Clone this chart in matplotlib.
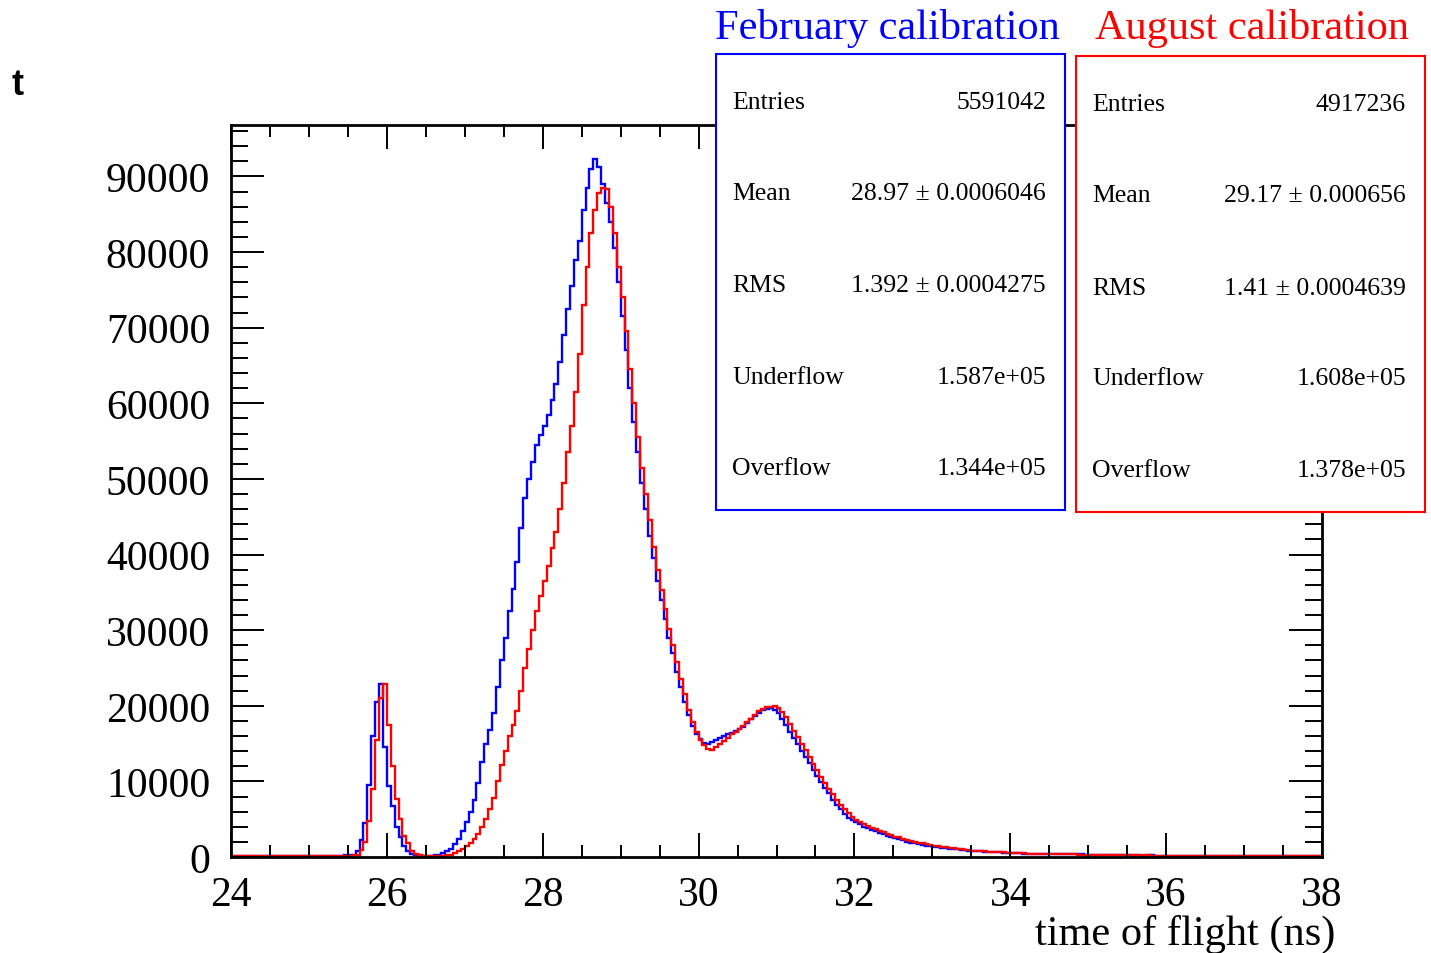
import matplotlib
matplotlib.use("Agg")
import matplotlib.pyplot as plt
import numpy as np
from matplotlib.patches import Rectangle
from matplotlib.ticker import MultipleLocator

# bins of 0.05 ns from 24 to 38, counts in thousands
bin_edges = np.arange(24.0, 38.0001, 0.05)

feb_counts = [
    # 24 - 25
    0.1, 0.1, 0.1, 0.1, 0.1, 0.1, 0.1, 0.1, 0.1, 0.1,
    0.1, 0.1, 0.1, 0.1, 0.1, 0.1, 0.1, 0.1, 0.1, 0.1,
    # 25 - 26
    0.1, 0.1, 0.1, 0.1, 0.1, 0.1, 0.1, 0.1, 0.15, 0.2,
    0.2, 0.3, 0.8, 2.2, 4.5, 9.5, 16.0, 20.5, 22.9, 14.5,
    # 26 - 27
    9.4, 6.8, 4.0, 2.7, 1.5, 0.8, 0.4, 0.2, 0.1, 0.1,
    0.1, 0.15, 0.2, 0.3, 0.5, 0.8, 1.0, 1.7, 2.4, 3.4,
    # 27 - 28
    4.6, 6.0, 7.5, 9.8, 12.5, 15.0, 16.8, 19.0, 22.5, 26.0,
    29.0, 32.5, 35.5, 39.0, 43.5, 47.5, 50.0, 52.3, 54.5, 55.8,
    # 28 - 29
    57.0, 58.5, 60.5, 62.5, 65.5, 69.0, 72.5, 75.5, 79.0, 81.5,
    85.5, 88.5, 91.0, 92.3, 91.2, 89.0, 86.5, 84.0, 80.5, 76.0,
    # 29 - 30
    71.5, 67.0, 62.0, 57.5, 53.5, 49.5, 46.0, 42.5, 39.5, 36.5,
    34.0, 31.5, 29.0, 27.0, 24.5, 22.5, 20.5, 18.8, 17.3, 16.2,
    # 30 - 31
    15.6, 15.1, 15.0, 15.2, 15.5, 15.8, 16.0, 16.2, 16.4, 16.6,
    16.9, 17.2, 17.7, 18.2, 18.7, 19.1, 19.4, 19.6, 19.7, 19.4,
    # 31 - 32
    19.0, 18.2, 17.4, 16.5, 15.7, 14.9, 14.0, 13.2, 12.4, 11.5,
    10.7, 9.9, 9.1, 8.4, 7.6, 6.9, 6.3, 5.7, 5.2, 4.9,
    # 32 - 33
    4.6, 4.3, 4.0, 3.8, 3.6, 3.4, 3.2, 3.0, 2.8, 2.6,
    2.5, 2.4, 2.2, 2.0, 1.9, 1.8, 1.7, 1.6, 1.5, 1.4,
    # 33 - 34
    1.35, 1.3, 1.2, 1.15, 1.1, 1.0, 1.0, 0.95, 0.9, 0.85,
    0.8, 0.8, 0.75, 0.7, 0.7, 0.65, 0.6, 0.6, 0.55, 0.55,
    # 34 - 35
    0.5, 0.5, 0.5, 0.45, 0.45, 0.45, 0.45, 0.4, 0.4, 0.4,
    0.4, 0.4, 0.4, 0.35, 0.35, 0.35, 0.35, 0.35, 0.35, 0.3,
    # 35 - 36
    0.3, 0.3, 0.3, 0.3, 0.3, 0.3, 0.3, 0.3, 0.3, 0.3,
    0.3, 0.1, 0.2, 0.1, 0.1, 0.2, 0.3, 0.1, 0.1, 0.1,
    # 36 - 37
    0.1, 0.1, 0.1, 0.1, 0.1, 0.1, 0.1, 0.1, 0.1, 0.1,
    0.1, 0.1, 0.1, 0.1, 0.1, 0.1, 0.1, 0.1, 0.1, 0.1,
    # 37 - 38
    0.1, 0.1, 0.1, 0.1, 0.1, 0.1, 0.1, 0.1, 0.1, 0.1,
    0.1, 0.1, 0.1, 0.1, 0.1, 0.1, 0.1, 0.1, 0.1, 0.1,
]

aug_counts = [
    # 24 - 25
    0.1, 0.1, 0.1, 0.1, 0.1, 0.1, 0.1, 0.1, 0.1, 0.1,
    0.1, 0.1, 0.1, 0.1, 0.1, 0.1, 0.1, 0.1, 0.1, 0.1,
    # 25 - 26
    0.1, 0.1, 0.1, 0.1, 0.1, 0.1, 0.1, 0.1, 0.1, 0.1,
    0.15, 0.2, 0.3, 0.9, 2.0, 4.8, 9.0, 15.5, 21.0, 22.9,
    # 26 - 27
    17.5, 12.0, 7.7, 5.0, 2.8, 1.8, 0.8, 0.4, 0.2, 0.1,
    0.1, 0.1, 0.1, 0.1, 0.15, 0.2, 0.3, 0.5, 0.8, 1.1,
    # 27 - 28
    1.5, 1.9, 2.4, 3.1, 4.0, 5.0, 6.3, 7.8, 10.0, 12.2,
    14.0, 16.0, 17.5, 19.3, 22.0, 25.0, 27.5, 30.0, 32.5, 34.5,
    # 28 - 29
    36.5, 38.5, 40.8, 43.0, 46.0, 49.5, 53.5, 57.0, 61.5, 66.5,
    73.0, 78.0, 82.5, 85.5, 87.8, 88.5, 88.4, 86.0, 82.5, 78.0,
    # 29 - 30
    74.0, 69.5, 64.5, 60.0, 55.5, 51.5, 48.0, 44.5, 41.0, 38.0,
    35.3, 32.8, 30.2, 28.0, 25.8, 23.6, 21.5, 19.5, 17.8, 16.5,
    # 30 - 31
    15.5, 14.8, 14.3, 14.2, 14.5, 15.0, 15.4, 15.8, 16.2, 16.5,
    16.9, 17.3, 17.8, 18.3, 18.8, 19.3, 19.6, 19.8, 19.9, 20.0,
    # 31 - 32
    19.7, 19.2, 18.5, 17.6, 16.7, 15.9, 15.0, 14.1, 13.2, 12.3,
    11.5, 10.6, 9.8, 9.0, 8.3, 7.5, 6.9, 6.3, 5.8, 5.3,
    # 32 - 33
    4.9, 4.6, 4.3, 4.1, 3.9, 3.7, 3.5, 3.3, 3.1, 2.9,
    2.7, 2.6, 2.4, 2.3, 2.1, 2.0, 1.9, 1.8, 1.7, 1.6,
    # 33 - 34
    1.5, 1.4, 1.35, 1.3, 1.2, 1.15, 1.1, 1.0, 0.95, 0.9,
    0.85, 0.8, 0.8, 0.75, 0.7, 0.7, 0.65, 0.6, 0.6, 0.55,
    # 34 - 35
    0.5, 0.5, 0.5, 0.5, 0.45, 0.45, 0.45, 0.4, 0.4, 0.4,
    0.4, 0.35, 0.35, 0.35, 0.35, 0.35, 0.35, 0.3, 0.3, 0.3,
    # 35 - 36
    0.3, 0.3, 0.3, 0.3, 0.3, 0.3, 0.3, 0.3, 0.3, 0.3,
    0.3, 0.3, 0.3, 0.3, 0.3, 0.3, 0.1, 0.1, 0.1, 0.1,
    # 36 - 37
    0.1, 0.1, 0.1, 0.1, 0.1, 0.1, 0.1, 0.1, 0.1, 0.1,
    0.1, 0.1, 0.1, 0.1, 0.1, 0.1, 0.1, 0.1, 0.1, 0.1,
    # 37 - 38
    0.1, 0.1, 0.1, 0.1, 0.1, 0.1, 0.1, 0.1, 0.1, 0.1,
    0.1, 0.1, 0.1, 0.1, 0.1, 0.1, 0.1, 0.1, 0.1, 0.1,
]

stat_names = ["Entries", "Mean", "RMS", "Underflow", "Overflow"]
feb_stats = ["5591042", "28.97 \u00b1 0.0006046", "1.392 \u00b1 0.0004275",
             "1.587e+05", "1.344e+05"]
aug_stats = ["4917236", "29.17 \u00b1 0.000656", "1.41 \u00b1 0.0004639",
             "1.608e+05", "1.378e+05"]

serif = "Liberation Serif"

fig = plt.figure(figsize=(14.31, 9.54), dpi=100)
ax = fig.add_axes([231/1431, 1-858/954, (1322-231)/1431, (858-126)/954])

ax.stairs(np.array(feb_counts)*1000, bin_edges, color="#0000ff", lw=1.7, baseline=None)
ax.stairs(np.array(aug_counts)*1000, bin_edges, color="#ff0000", lw=1.7, baseline=None)

ax.set_xlim(24, 38)
ax.set_ylim(0, 96800)

ax.xaxis.set_major_locator(MultipleLocator(2))
ax.xaxis.set_minor_locator(MultipleLocator(0.5))
ax.yaxis.set_major_locator(MultipleLocator(10000))
ax.yaxis.set_minor_locator(MultipleLocator(2000))

ax.tick_params(axis="both", which="both", direction="in", top=True, right=True, width=1.4)
ax.tick_params(axis="x", which="major", length=17, pad=13)
ax.tick_params(axis="x", which="minor", length=8.5)
ax.tick_params(axis="y", which="major", length=24, pad=15)
ax.tick_params(axis="y", which="minor", length=12)
for lab in ax.get_xticklabels() + ax.get_yticklabels():
    lab.set_fontfamily(serif)
    lab.set_fontsize(30)
for sp in ax.spines.values():
    sp.set_linewidth(2.0)

fig.text(12/1431, 1-95/954, "t", fontfamily="Liberation Sans", fontweight="bold",
         fontsize=26, va="baseline", ha="left")
fig.text(1335/1431, 1-945/954, "time of flight (ns)", fontfamily=serif, fontsize=30.5,
         ha="right", va="baseline")

# stat boxes, drawn over the frame like in ROOT
boxes = [
    (716, 55, "#0000ff", "February calibration", 715, feb_stats, [101, 192, 284, 376, 467]),
    (1076, 57, "#ff0000", "August calibration", 1095, aug_stats, [103, 194, 287, 377, 469]),
]
for bx, by, col, title, tx, stats, rows in boxes:
    rect = Rectangle((bx/1431, 1-(by+456)/954), 349/1431, 456/954, transform=fig.transFigure,
                     facecolor="white", edgecolor=col, lw=1.5, zorder=5)
    fig.add_artist(rect)
    fig.text(tx/1431, 1-39/954, title, color=col, fontfamily=serif, fontsize=30.5,
             ha="left", va="baseline", zorder=6)
    for name, val, ry in zip(stat_names, stats, rows):
        fig.text((bx+16)/1431, 1-(ry+8)/954, name, fontfamily=serif, fontsize=18.5,
                 ha="left", va="baseline", zorder=6)
        fig.text((bx+330)/1431, 1-(ry+8)/954, val, fontfamily=serif, fontsize=18.5,
                 ha="right", va="baseline", zorder=6)

fig.savefig("out.png", dpi=100)
